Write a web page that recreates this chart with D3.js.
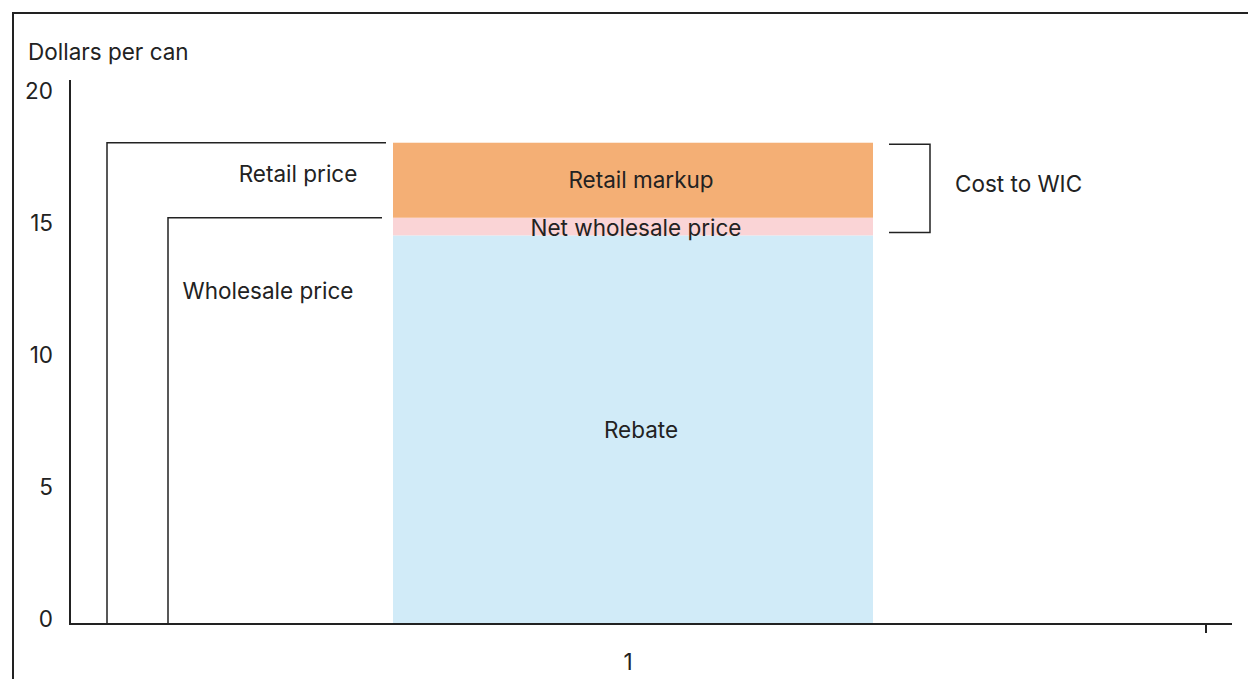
<!DOCTYPE html>
<html>
<head>
<meta charset="utf-8">
<script src="https://cdn.jsdelivr.net/npm/d3@7"></script>
<style>
  html, body { margin: 0; padding: 0; background: #fff; }
  svg text { font-family: Inter, "Noto Sans", sans-serif; fill: #222; }
</style>
</head>
<body>
<svg id="chart" width="1248" height="679"></svg>
<script>
// Price components of one can of infant formula, dollars per can
const categories = ["1"];
const rebate = [14.72];
const netWholesale = [0.67];
const retailMarkup = [2.84];
const yTicks = [0, 5, 10, 15, 20];

const segmentNames = ["Rebate", "Net wholesale price", "Retail markup"];
const segmentColors = ["#d1ebf8", "#fad4d6", "#f4af75"];

const svg = d3.select("#chart");
const ink = "#222";
const fs = 22.5;

// Outer frame (top and left rules)
svg.append("path")
  .attr("d", "M13,679 V13 H1248")
  .attr("fill", "none").attr("stroke", ink).attr("stroke-width", 2);

const y = d3.scaleLinear().domain([0, 20]).range([624, 96]);
const x = d3.scaleLinear().domain([0, 2]).range([70, 1196]);
const barHalf = 240;

// Stack the three components
const rows = categories.map((c, i) => ({
  cat: c, Rebate: rebate[i], "Net wholesale price": netWholesale[i], "Retail markup": retailMarkup[i]
}));
const series = d3.stack().keys(segmentNames)(rows);

const gBars = svg.append("g");
series.forEach((s, si) => {
  s.forEach(d => {
    const cx = x(+d.data.cat);
    gBars.append("rect")
      .attr("x", cx - barHalf).attr("width", barHalf * 2)
      .attr("y", y(d[1])).attr("height", y(d[0]) - y(d[1]))
      .attr("fill", segmentColors[si]);
  });
});

// Segment labels
const cx1 = x(1);
const retailPrice = series[2][0][1];
const wholesalePrice = series[1][0][1];
const rebateTop = series[0][0][1];
const labels = gBars.append("g").attr("font-size", fs).attr("text-anchor", "middle");
labels.append("text").attr("x", cx1 + 8).attr("y", (y(retailPrice) + y(wholesalePrice)) / 2 + 8).text("Retail markup");
labels.append("text").attr("x", cx1 + 3).attr("y", y(wholesalePrice) + 18).text("Net wholesale price");
labels.append("text").attr("x", cx1 + 8).attr("y", y(rebateTop / 2) + 8).text("Rebate");

// Y axis
const yAxis = d3.axisLeft(y).tickValues(yTicks).tickSize(0).tickPadding(17);
const gy = svg.append("g").attr("transform", "translate(70,0)").call(yAxis);
gy.select(".domain").remove();
gy.selectAll("text").attr("font-size", fs).attr("font-family", "Inter, 'Noto Sans', sans-serif")
  .attr("fill", ink).attr("dy", "0.1em");
svg.append("line").attr("x1", 70).attr("x2", 70).attr("y1", 80).attr("y2", 625)
  .attr("stroke", ink).attr("stroke-width", 2);

// X axis
svg.append("line").attr("x1", 69).attr("x2", 1232).attr("y1", 624).attr("y2", 624)
  .attr("stroke", ink).attr("stroke-width", 2);
svg.append("line").attr("x1", 1206).attr("x2", 1206).attr("y1", 624).attr("y2", 633)
  .attr("stroke", ink).attr("stroke-width", 2);
svg.append("text").attr("x", cx1 - 5).attr("y", 670).attr("font-size", fs)
  .attr("text-anchor", "middle").text(categories[0]);

// Axis title
svg.append("text").attr("x", 28).attr("y", 60).attr("font-size", fs).text("Dollars per can");

// Bracket for retail price
svg.append("path")
  .attr("d", `M107,${y(0)} V${y(retailPrice)} H386`)
  .attr("fill", "none").attr("stroke", ink).attr("stroke-width", 1.5);
svg.append("text").attr("x", 298).attr("y", y(retailPrice) + 39).attr("font-size", fs)
  .attr("text-anchor", "middle").text("Retail price");

// Bracket for wholesale price
svg.append("path")
  .attr("d", `M168,${y(0)} V${y(wholesalePrice)} H382`)
  .attr("fill", "none").attr("stroke", ink).attr("stroke-width", 1.5);
svg.append("text").attr("x", 268).attr("y", y(wholesalePrice) + 81).attr("font-size", fs)
  .attr("text-anchor", "middle").text("Wholesale price");

// Bracket for cost to WIC (markup + net wholesale)
svg.append("path")
  .attr("d", `M889,${y(retailPrice) + 1.5} H930 V${y(rebateTop) - 3} H889`)
  .attr("fill", "none").attr("stroke", ink).attr("stroke-width", 1.5);
svg.append("text").attr("x", 955).attr("y", 192).attr("font-size", fs).text("Cost to WIC");
</script>
</body>
</html>
